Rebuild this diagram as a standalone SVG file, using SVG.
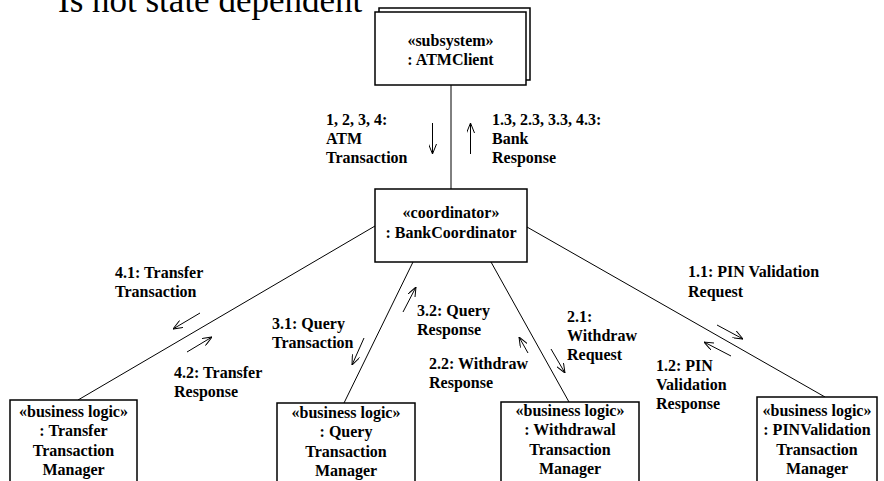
<svg xmlns="http://www.w3.org/2000/svg" width="884" height="481" viewBox="0 0 884 481">
  <defs>
    <marker id="open" viewBox="0 0 10 8" refX="10" refY="4" markerWidth="10" markerHeight="8" markerUnits="userSpaceOnUse" orient="auto">
      <path d="M0,0 L10,4 L0,8" fill="none" stroke="#000" stroke-width="1"/>
    </marker>
    <style>
      .box { fill: #fff; stroke: #000; stroke-width: 1.5; }
      .link { stroke: #000; stroke-width: 1; fill: none; }
      .msg { stroke: #000; stroke-width: 1; fill: none; marker-end: url(#open); }
      text { font-family: "Liberation Serif", "Times New Roman", serif; font-size: 16px; font-weight: bold; fill: #000; }
      .c { text-anchor: middle; }
      .title { font-size: 35px; font-weight: normal; }
    </style>
  </defs>

  <rect width="884" height="481" fill="#fff"/>

  <text class="title" x="58" y="12">Is not state dependent</text>

  <!-- links between objects -->
  <g id="connectors">
    <line class="link" x1="451" y1="85" x2="451" y2="189"/>
    <line class="link" x1="375" y1="226" x2="78" y2="400"/>
    <line class="link" x1="413" y1="262" x2="344" y2="403"/>
    <line class="link" x1="491" y1="262" x2="569" y2="402"/>
    <line class="link" x1="527" y1="227" x2="825" y2="397"/>

    <!-- message arrows -->
    <line class="msg" x1="432.5" y1="123" x2="432.5" y2="154"/>
    <line class="msg" x1="470.5" y1="154" x2="470.5" y2="123"/>
    <line class="msg" x1="200" y1="313" x2="173" y2="329"/>
    <line class="msg" x1="187" y1="352" x2="212" y2="337"/>
    <line class="msg" x1="364" y1="338" x2="352" y2="365"/>
    <line class="msg" x1="403" y1="312" x2="416" y2="287"/>
    <line class="msg" x1="528" y1="353" x2="519" y2="337"/>
    <line class="msg" x1="551" y1="349" x2="565" y2="373"/>
    <line class="msg" x1="717" y1="325" x2="743" y2="339"/>
    <line class="msg" x1="731" y1="356" x2="704" y2="342"/>
  </g>

  <!-- message labels -->
  <g id="labels">
    <text x="326" y="125">1, 2, 3, 4:</text>
    <text x="326" y="144">ATM</text>
    <text x="326" y="163">Transaction</text>

    <text x="492" y="125">1.3, 2.3, 3.3, 4.3:</text>
    <text x="492" y="144">Bank</text>
    <text x="492" y="163">Response</text>

    <text x="115" y="278">4.1: Transfer</text>
    <text x="115" y="297">Transaction</text>

    <text x="174" y="378">4.2: Transfer</text>
    <text x="174" y="397">Response</text>

    <text x="272" y="329">3.1: Query</text>
    <text x="272" y="348">Transaction</text>

    <text x="417" y="316">3.2: Query</text>
    <text x="417" y="335">Response</text>

    <text x="429" y="369">2.2: Withdraw</text>
    <text x="429" y="388">Response</text>

    <text x="567" y="322">2.1:</text>
    <text x="567" y="341">Withdraw</text>
    <text x="567" y="360">Request</text>

    <text x="688" y="277">1.1: PIN Validation</text>
    <text x="688" y="297">Request</text>

    <text x="656" y="371">1.2: PIN</text>
    <text x="656" y="390">Validation</text>
    <text x="656" y="409">Response</text>
  </g>

  <g id="atmClient">
    <rect class="box" x="379" y="8" width="151" height="72"/>
    <rect class="box" x="375" y="12" width="151" height="73"/>
    <text class="c" x="450.5" y="46">«subsystem»</text>
    <text class="c" x="450.5" y="65">: ATMClient</text>
  </g>

  <g id="bankCoordinator">
    <rect class="box" x="375" y="189" width="152" height="73"/>
    <text class="c" x="451" y="218">«coordinator»</text>
    <text class="c" x="451" y="238">: BankCoordinator</text>
  </g>

  <g id="transferManager">
    <rect class="box" x="10" y="400" width="127" height="95"/>
    <text class="c" x="73.5" y="417">«business logic»</text>
    <text class="c" x="73.5" y="436">: Transfer</text>
    <text class="c" x="73.5" y="456">Transaction</text>
    <text class="c" x="73.5" y="475">Manager</text>
  </g>

  <g id="queryManager">
    <rect class="box" x="277" y="403" width="138" height="95"/>
    <text class="c" x="346" y="418">«business logic»</text>
    <text class="c" x="346" y="437">: Query</text>
    <text class="c" x="346" y="457">Transaction</text>
    <text class="c" x="346" y="476">Manager</text>
  </g>

  <g id="withdrawalManager">
    <rect class="box" x="501" y="402" width="138" height="95"/>
    <text class="c" x="570" y="416">«business logic»</text>
    <text class="c" x="570" y="435">: Withdrawal</text>
    <text class="c" x="570" y="455">Transaction</text>
    <text class="c" x="570" y="474">Manager</text>
  </g>

  <g id="pinValidationManager">
    <rect class="box" x="757" y="397" width="120" height="95"/>
    <text class="c" x="817" y="416">«business logic»</text>
    <text class="c" x="817" y="435">: PINValidation</text>
    <text class="c" x="817" y="455">Transaction</text>
    <text class="c" x="817" y="474">Manager</text>
  </g>
</svg>
